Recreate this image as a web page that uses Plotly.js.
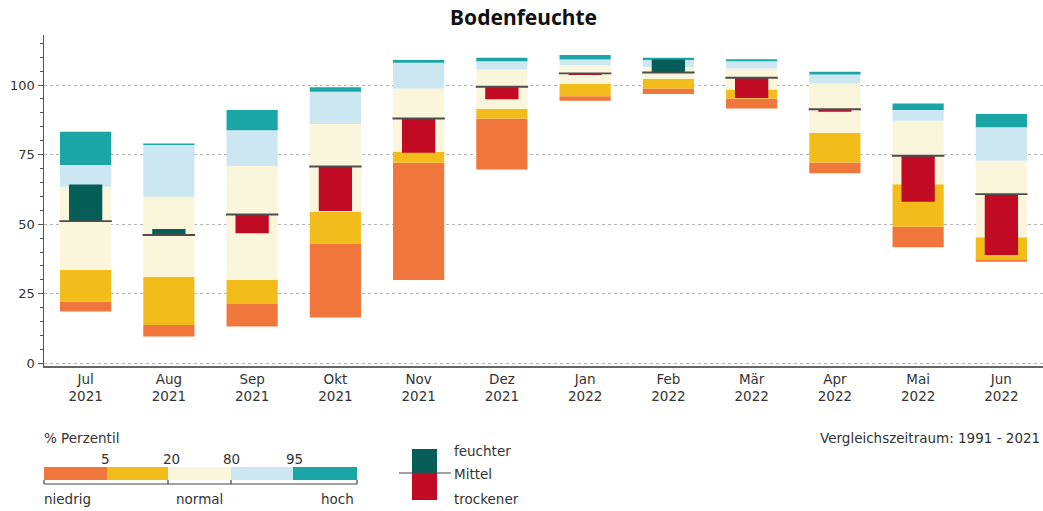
<!DOCTYPE html>
<html>
<head>
<meta charset="utf-8">
<script src="https://cdn.plot.ly/plotly-3.0.1.min.js"></script>
<style>
  html, body { margin: 0; padding: 0; background: #fff; }
  #chart { width: 1043px; height: 511px; }
</style>
</head>
<body>
<div id="chart"></div>
<script>
// Monate (Kategorien)
const monate = ['Jul<br>2021', 'Aug<br>2021', 'Sep<br>2021', 'Okt<br>2021', 'Nov<br>2021', 'Dez<br>2021',
                'Jan<br>2022', 'Feb<br>2022', 'Mär<br>2022', 'Apr<br>2022', 'Mai<br>2022', 'Jun<br>2022'];

// Perzentile der Bodenfeuchte, Vergleichszeitraum 1991 - 2021
const p_min = [18.6,  9.6, 13.2, 16.5, 29.9, 69.7,  94.4,  96.8,  91.6, 68.3, 41.7, 36.5];
const p05   = [22.1, 13.8, 21.3, 43.1, 72.1, 88.0,  96.0,  98.8,  95.2, 72.2, 49.1, 37.1];
const p20   = [33.5, 31.1, 29.9, 54.5, 76.0, 91.5, 100.4, 102.2,  98.4, 82.9, 64.4, 45.3];
const p80   = [63.5, 59.9, 70.9, 86.0, 98.8, 105.6, 107.2, 106.5, 106.0, 100.6, 87.2, 72.8];
const p95   = [71.3, 78.5, 83.8, 97.6, 108.0, 108.6, 109.2, 109.0, 108.6, 103.8, 91.0, 84.8];
const p_max = [83.2, 79.0, 91.0, 99.2, 109.0, 109.8, 110.8, 109.8, 109.3, 104.8, 93.4, 89.6];

// Mittel und aktueller Wert
const mittel  = [51.1, 46.1, 53.5, 70.7, 88.0, 99.4, 104.2, 104.5, 102.6, 91.3, 74.6, 60.8];
const aktuell = [64.3, 48.3, 46.7, 54.7, 75.7, 94.9, 103.6, 109.2,  95.4, 90.4, 58.1, 38.9];

const farben = {
    niedrig: '#f1763b',
    gelb: '#f2bd1b',
    normal: '#faf6dc',
    hellblau: '#cce7f1',
    hoch: '#19a6a4',
    feucht: '#075d58',
    trocken: '#c10b25',
    mittel: '#4d4d4d'
};

function band(unten, oben, farbe, name) {
    return {
        type: 'bar',
        x: monate,
        base: unten,
        y: oben.map((v, i) => v - unten[i]),
        width: 0.615,
        marker: { color: farbe, line: { width: 0 } },
        name: name,
        showlegend: false,
        hoverinfo: 'skip'
    };
}

const data = [
    band(p_min, p05, farben.niedrig, '< 5'),
    band(p05, p20, farben.gelb, '5 - 20'),
    band(p20, p80, farben.normal, '20 - 80'),
    band(p80, p95, farben.hellblau, '80 - 95'),
    band(p95, p_max, farben.hoch, '> 95'),
    {
        type: 'bar',
        x: monate,
        base: mittel,
        y: aktuell.map((v, i) => v - mittel[i]),
        width: 0.4,
        marker: { color: aktuell.map((v, i) => v >= mittel[i] ? farben.feucht : farben.trocken), line: { width: 0 } },
        showlegend: false,
        hoverinfo: 'skip'
    },
    {
        type: 'bar',
        x: monate,
        base: mittel.map(v => v - 0.35),
        y: mittel.map(() => 0.7),
        width: 0.63,
        marker: { color: farben.mittel, line: { width: 0 } },
        showlegend: false,
        hoverinfo: 'skip'
    }
];

// Legende in Pixeln -> paper
const L = 44, T = 35, W = 999, H = 331;
const px = x => (x - L) / W;
const py = y => (T + H - y) / H;

const schrift = 'DejaVu Sans, Verdana, sans-serif';
const txtFont = { family: schrift, size: 13.5, color: '#333' };
const shapes = [];
const annotations = [];

function rect(x0, y0, x1, y1, farbe) {
    shapes.push({ type: 'rect', xref: 'paper', yref: 'paper', x0: px(x0), x1: px(x1), y0: py(y1), y1: py(y0),
        fillcolor: farbe, line: { width: 0 }, layer: 'above' });
}
function linie(x0, y0, x1, y1, farbe) {
    shapes.push({ type: 'line', xref: 'paper', yref: 'paper', x0: px(x0), x1: px(x1), y0: py(y0), y1: py(y1),
        line: { color: farbe, width: 1.2 } });
}
function text(x, y, t, xa) {
    annotations.push({ xref: 'paper', yref: 'paper', x: px(x), y: py(y), text: t, showarrow: false,
        xanchor: xa || 'left', yanchor: 'middle', font: txtFont });
}

// Perzentil-Leiste
rect(44, 467, 107, 480, farben.niedrig);
rect(107, 467, 168, 480, farben.gelb);
rect(168, 467, 231, 480, farben.normal);
rect(231, 467, 293, 480, farben.hellblau);
rect(293, 467, 357, 480, farben.hoch);
linie(44, 484, 357, 484, '#444');
[44, 168, 231, 357].forEach(x => linie(x, 480, x, 484, '#444'));
text(42, 438, '% Perzentil');
text(112, 459, '5', 'right');
text(171, 459, '20', 'center');
text(231, 459, '80', 'center');
text(294, 459, '95', 'center');
text(42, 499, 'niedrig');
text(199, 499, 'normal', 'center');
text(356, 499, 'hoch', 'right');

// feuchter / trockener
rect(412, 449, 437, 473, farben.feucht);
rect(412, 473, 437, 500, farben.trocken);
linie(399, 473, 451, 473, '#444');
text(452, 451, 'feuchter');
text(452, 474, 'Mittel');
text(452, 499, 'trockener');

text(1042, 438, 'Vergleichszeitraum: 1991 - 2021', 'right');

const layout = {
    width: 1043,
    height: 511,
    margin: { l: L, r: 1043 - L - W, t: T, b: 511 - T - H, pad: 0 },
    paper_bgcolor: '#fff',
    plot_bgcolor: '#fff',
    barmode: 'overlay',
    showlegend: false,
    title: {
        text: '<b>Bodenfeuchte</b>',
        x: 0.502,
        xanchor: 'center',
        y: 0.965,
        yanchor: 'middle',
        font: { family: 'Noto Sans, Open Sans, sans-serif', size: 21, color: '#111' }
    },
    xaxis: {
        type: 'category',
        range: [-0.5, 11.5],
        showgrid: false,
        showline: true,
        linecolor: '#666',
        linewidth: 1.5,
        ticks: '',
        tickfont: { family: schrift, size: 13.5, color: '#333' },
        fixedrange: true
    },
    yaxis: {
        range: [-0.97, 118],
        tickvals: [0, 25, 50, 75, 100],
        showgrid: true,
        gridcolor: '#b5b5b5',
        griddash: 'dot',
        gridwidth: 1,
        zeroline: false,
        showline: true,
        linecolor: '#555',
        linewidth: 1.5,
        ticks: 'outside',
        ticklen: 5,
        tickcolor: '#555',
        tickfont: { family: schrift, size: 13, color: '#333' },
        minor: { dtick: 5, tick0: 0, ticks: 'outside', ticklen: 3, tickcolor: '#555', showgrid: false },
        fixedrange: true
    },
    shapes: shapes,
    annotations: annotations
};

Plotly.newPlot('chart', data, layout, { displayModeBar: false, staticPlot: true });
</script>
</body>
</html>
